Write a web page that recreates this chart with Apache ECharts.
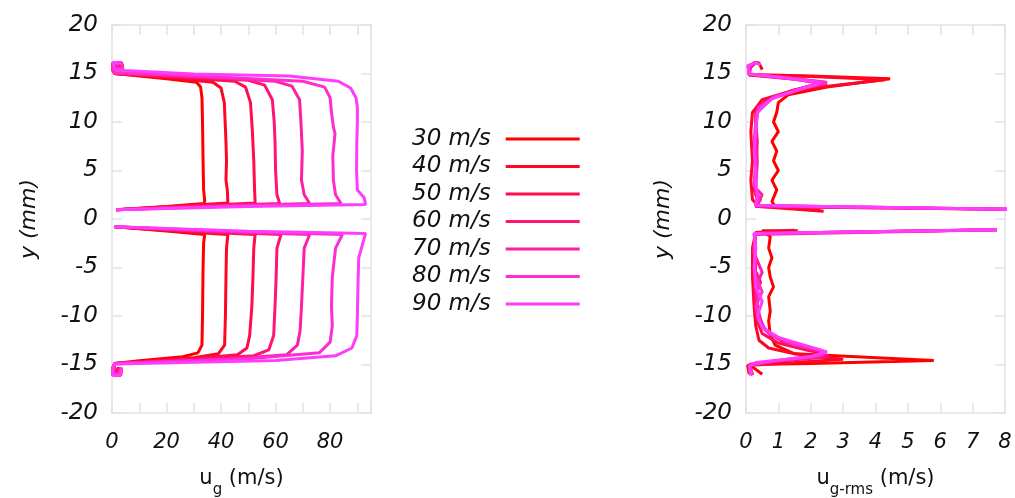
<!DOCTYPE html>
<html><head><meta charset="utf-8">
<script src="https://cdn.jsdelivr.net/npm/echarts@6/dist/echarts.min.js"></script>
<style>html,body{margin:0;padding:0;background:#fff}#c{width:1015px;height:498px}</style>
</head><body><div id="c"></div>
<script>
const speeds = ['30 m/s','40 m/s','50 m/s','60 m/s','70 m/s','80 m/s','90 m/s'];
const colors = ['#ff0000','#ff0526','#ff0c4c','#ff1476','#ff1fa4','#ff2ccf','#ff3cfb'];
const yTicks = [-20,-15,-10,-5,0,5,10,15,20];
const ugTicks = [0,20,40,60,80];
const rmsTicks = [0,1,2,3,4,5,6,7,8];

// mean velocity u_g, upper half (y>0) and lower half (y<0)
const ugTop30 = [[1.5,0.95],[20,1.3],[33.8,1.6],[34,1.9],[33.6,3],[33.4,6],[33.2,10],[33,12.5],[32.5,13.6],[31,14.1],[20,14.45],[10,14.75],[1,15.0],[0.3,15.3],[0.3,16.1],[1.5,15.5],[2,16.1],[3.5,16.1],[4,15.4],[2.5,15.7]];
const ugTop40 = [[1.5,0.95],[25,1.35],[42.5,1.65],[42.3,3],[41.8,4],[42,6],[41.8,8],[41.5,10],[41.2,12],[40,13.5],[37,14.1],[20,14.6],[1,15.0],[0.5,15.5],[0.4,16.0],[2.5,15.4],[3,16.1],[4,15.7]];
const ugTop50 = [[1.5,0.95],[30,1.35],[52.5,1.65],[52.3,3],[52,6],[51.5,9],[50.8,12],[49,13.6],[45,14.2],[25,14.6],[1,15.0],[0.3,15.6],[1.2,16.1],[2.2,15.3],[3.8,15.9]];
const ugTop60 = [[1.5,0.95],[35,1.35],[61.5,1.6],[60.5,2.5],[60,5],[59.8,8],[59.5,10],[58.8,12.3],[56,13.8],[50,14.3],[25,14.7],[1,15.0],[0.3,15.4],[0.3,16.1],[3.5,16.1],[3.8,15.3]];
const ugTop70 = [[1.5,0.95],[40,1.35],[72.5,1.6],[70.5,2.5],[69.5,4],[69.8,7],[69.3,10],[68.8,12.3],[66,13.7],[60,14.2],[30,14.7],[1,15.05],[0.6,15.8],[1.8,16.0],[2.8,15.4],[4,15.3]];
const ugTop80 = [[1.5,0.95],[45,1.35],[84,1.6],[82,2.5],[81.2,4],[81,6.5],[81.8,8.8],[81.2,9.5],[80.5,11],[80,12.5],[78,13.6],[70,14.2],[35,14.7],[1,15.1],[0.3,15.5],[0.5,16.1],[3.5,16.0],[4,15.3]];
const ugTop90 = [[1.5,0.95],[50,1.3],[93,1.5],[92.5,2.2],[90,3],[89.7,5],[89.8,8],[90,10],[90,11.5],[89.5,12.5],[87.5,13.5],[83,14.2],[65,14.75],[30,14.95],[4.4,15.3],[1,15.5],[0.3,16.1],[3.5,16.1]];
const ugBot30 = [[1,-0.8],[20,-1.25],[34,-1.6],[33.6,-2.5],[33.4,-5],[33.2,-10],[33,-13],[31.5,-13.8],[26,-14.2],[10,-14.6],[1,-14.9],[0.3,-15.3],[0.3,-16.1],[1.5,-15.5],[2,-16.1],[3.2,-16.1],[3.5,-15.4],[2,-15.7]];
const ugBot40 = [[1,-0.8],[25,-1.3],[42.5,-1.6],[42,-3],[41.8,-6],[41.6,-10],[41.3,-13],[39,-13.9],[30,-14.3],[1,-14.9],[0.5,-15.6],[0.6,-16.1],[2.5,-15.4],[3,-16.0]];
const ugBot50 = [[1,-0.8],[30,-1.3],[52.5,-1.6],[52,-3],[51.7,-6],[51.3,-9],[50.5,-12],[49.5,-13.3],[46,-14],[30,-14.4],[1,-14.9],[0.3,-15.5],[1.2,-16.1],[2.2,-15.3],[3.4,-15.9]];
const ugBot60 = [[1,-0.8],[35,-1.3],[62,-1.6],[60.5,-3],[60.2,-6],[59.8,-9],[59.3,-12],[57.5,-13.5],[52,-14.1],[30,-14.5],[1,-14.9],[0.3,-15.3],[0.3,-16.1],[3,-16.1],[3.5,-15.4]];
const ugBot70 = [[1,-0.8],[40,-1.3],[72.5,-1.6],[70.5,-3],[70,-6],[69.5,-9],[69,-11.5],[68,-13],[64,-14],[40,-14.5],[1,-14.9],[0.6,-15.8],[1.8,-16.0],[2.8,-15.4],[3.6,-15.6]];
const ugBot80 = [[1,-0.8],[45,-1.3],[84.5,-1.6],[82,-3],[80.8,-6],[80.5,-9],[80.8,-11],[80,-12.7],[76,-13.8],[50,-14.4],[1,-14.9],[0.3,-15.4],[0.5,-16.1],[3.2,-16.0],[3.5,-15.3]];
const ugBot90 = [[1,-0.8],[50,-1.25],[93,-1.5],[92,-2.5],[90.5,-4],[90.2,-7],[90,-10],[89.8,-12],[88,-13.3],[82,-14.1],[60,-14.6],[1,-14.95],[0.3,-15.3],[0.3,-16.1],[3,-16.1],[3.5,-15.4]];

// rms velocity u_g-rms, upper and lower halves
const rmsTop30 = [[2.3,0.85],[0.9,1.3],[0.8,1.8],[0.95,3],[0.8,4],[1.0,5],[0.85,6],[0.95,7],[0.8,8],[1.0,9],[0.85,10],[0.95,11],[1.0,12],[1.3,12.8],[2.5,13.6],[4.45,14.45],[2,14.75],[0.1,14.9],[0.1,15.5],[0.25,16.1],[0.4,16.1],[0.5,15.4]];
const rmsTop40 = [[2.4,0.8],[0.4,1.3],[0.2,2],[0.15,4],[0.2,6],[0.15,9],[0.2,11],[0.5,12.3],[1.5,13.3],[4.3,14.35],[2,14.7],[0.1,14.85],[0.1,15.6],[0.3,16.1]];
const rmsTop50 = [[8.1,1.0],[0.3,1.3],[0.35,2],[0.25,3],[0.3,5],[0.25,7],[0.3,9],[0.3,11],[0.6,12.2],[1.4,13.2],[2.3,14.0],[1.5,14.4],[0.1,14.85],[0.1,15.6],[0.3,16.1]];
const rmsTop60 = [[8.1,1.0],[0.3,1.3],[0.45,2],[0.3,2.8],[0.3,5],[0.35,8],[0.3,10],[0.35,11.5],[0.7,12.3],[1.5,13.3],[2.4,14.1],[1.3,14.5],[0.1,14.9],[0.15,15.7],[0.3,16.1]];
const rmsTop70 = [[8.1,1.0],[0.35,1.4],[0.5,2.5],[0.3,3.2],[0.35,6],[0.3,9],[0.35,11],[0.8,12.5],[1.7,13.4],[2.5,14.0],[1.2,14.6],[0.1,14.9],[0.1,15.8],[0.25,16.1]];
const rmsTop80 = [[8.1,1.0],[0.3,1.4],[0.4,2.2],[0.25,3.5],[0.3,6],[0.25,8],[0.3,10],[0.4,11.5],[0.9,12.6],[1.8,13.5],[2.5,14.1],[1.4,14.5],[0.1,14.95],[0.1,15.8],[0.3,16.1]];
const rmsTop90 = [[8.1,1.0],[0.3,1.4],[0.35,2.5],[0.3,3.5],[0.3,5],[0.25,7],[0.3,9],[0.35,11],[0.8,12.4],[1.6,13.3],[2.3,14.05],[1.3,14.5],[0.1,14.95],[0.05,15.8],[0.3,16.1],[0.45,15.9]];
const rmsBot30 = [[1.6,-1.2],[0.5,-1.2],[0.75,-1.8],[0.7,-3],[0.8,-4],[0.7,-5],[0.75,-6],[0.85,-7],[0.7,-8],[0.75,-9.5],[0.7,-10.5],[0.75,-12],[0.9,-13],[1.5,-13.9],[5.8,-14.6],[2,-14.9],[0.1,-15.0],[0.3,-15.5],[0.5,-16.0]];
const rmsBot40 = [[1.5,-1.15],[0.3,-1.4],[0.2,-3],[0.2,-6],[0.25,-9],[0.3,-11],[0.4,-12.5],[0.7,-13.3],[1.5,-13.9],[3.0,-14.45],[1.5,-14.8],[0.05,-15.1],[0.1,-16]];
const rmsBot50 = [[7.75,-1.1],[0.3,-1.5],[0.25,-3],[0.3,-5],[0.25,-7],[0.3,-9],[0.35,-10.5],[0.5,-11.8],[1.0,-12.8],[2.0,-13.6],[2.6,-14.2],[1.2,-14.6],[0.1,-15.0],[0.2,-16.1]];
const rmsBot60 = [[7.75,-1.1],[0.25,-1.5],[0.3,-3],[0.25,-5],[0.45,-6.5],[0.3,-8],[0.4,-10],[0.6,-11.5],[1.2,-12.8],[2.2,-13.6],[2.5,-14.1],[1.0,-14.6],[0.1,-15],[0.15,-16.1]];
const rmsBot70 = [[7.75,-1.1],[0.3,-1.6],[0.25,-3.5],[0.5,-5.5],[0.3,-7],[0.35,-9],[0.5,-11],[0.8,-12],[1.5,-13],[2.4,-13.7],[2.3,-14.2],[0.8,-14.7],[0.1,-15.1],[0.2,-16]];
const rmsBot80 = [[7.75,-1.1],[0.3,-1.5],[0.25,-3],[0.3,-6],[0.5,-7.5],[0.3,-9],[0.4,-10.5],[0.7,-11.8],[1.4,-12.8],[2.3,-13.5],[2.4,-14.0],[0.9,-14.6],[0.1,-15.1],[0.2,-16.1]];
const rmsBot90 = [[7.75,-1.1],[0.25,-1.5],[0.3,-3],[0.25,-5],[0.3,-7],[0.5,-8.5],[0.35,-10],[0.5,-11.2],[1.0,-12.2],[1.8,-13.0],[2.5,-13.7],[2.0,-14.2],[0.3,-14.8],[0.1,-15.2],[0.15,-16.1]];

const ugTop = [ugTop30,ugTop40,ugTop50,ugTop60,ugTop70,ugTop80,ugTop90];
const ugBot = [ugBot30,ugBot40,ugBot50,ugBot60,ugBot70,ugBot80,ugBot90];
const rmsTop = [rmsTop30,rmsTop40,rmsTop50,rmsTop60,rmsTop70,rmsTop80,rmsTop90];
const rmsBot = [rmsBot30,rmsBot40,rmsBot50,rmsBot60,rmsBot70,rmsBot80,rmsBot90];

const FONT = 'DejaVu Sans';
const frameColor = '#e2e2e2';
const ink = '#111';

function xAx(grid, max, interval, ticks, name, pos) {
  const main = pos === 'bottom';
  return {
    gridIndex: grid, type: 'value', min: 0, max: max, interval: interval, position: pos,
    axisLine: {show: true, onZero: false, lineStyle: {color: frameColor, width: 1.5}},
    axisTick: {show: true, inside: true, length: 10, lineStyle: {color: frameColor, width: 1.5}},
    splitLine: {show: false},
    axisLabel: main ? {margin: 19, fontFamily: FONT, fontStyle: 'italic', fontSize: 21, color: ink,
      formatter: v => ticks.indexOf(v) >= 0 ? String(v) : ''} : {show: false},
    name: main ? name : '', nameLocation: 'middle', nameGap: 55,
    nameTextStyle: {rich: {
      a: {fontFamily: FONT, fontSize: 21, color: ink, lineHeight: 30, verticalAlign: 'top'},
      s: {fontFamily: FONT, fontSize: 15, color: ink, lineHeight: 15, verticalAlign: 'bottom'}
    }}
  };
}
function yAx(grid, pos) {
  const main = pos === 'left';
  return {
    gridIndex: grid, type: 'value', min: -20, max: 20, interval: 5, position: pos,
    axisLine: {show: true, onZero: false, lineStyle: {color: frameColor, width: 1.5}},
    axisTick: {show: true, inside: true, length: 10, lineStyle: {color: frameColor, width: 1.5}},
    splitLine: {show: false},
    axisLabel: main ? {margin: 14, fontFamily: FONT, fontStyle: 'italic', fontSize: 23, color: ink,
      formatter: v => yTicks.indexOf(v) >= 0 ? String(v) : ''} : {show: false},
    name: main ? 'y (mm)' : '', nameLocation: 'middle', nameGap: 72,
    nameTextStyle: {fontFamily: FONT, fontStyle: 'italic', fontSize: 22, color: ink}
  };
}

function join(a, b) { return a.concat([['-','-']], b); }

const series = [];
speeds.forEach((s, i) => {
  series.push({name: s, type: 'line', xAxisIndex: 0, yAxisIndex: 0, data: join(ugTop[i], ugBot[i]),
    symbol: 'none', lineStyle: {width: 3, color: colors[i]}, itemStyle: {color: colors[i]}, animation: false});
});
speeds.forEach((s, i) => {
  series.push({name: s, type: 'line', xAxisIndex: 2, yAxisIndex: 2, data: join(rmsTop[i], rmsBot[i]),
    symbol: 'none', lineStyle: {width: 3, color: colors[i]}, itemStyle: {color: colors[i]}, animation: false});
});

const chart = echarts.init(document.getElementById('c'), null, {renderer: 'canvas'});
chart.setOption({
  backgroundColor: '#fff',
  animation: false,
  grid: [
    {left: 112, top: 25, width: 259, height: 388, containLabel: false, outerBoundsMode: 'none'},
    {left: 746, top: 25, width: 259, height: 388, containLabel: false, outerBoundsMode: 'none'}
  ],
  xAxis: [
    xAx(0, 95, 10, ugTicks, '{a|u}{s|g}{a| (m/s)}', 'bottom'),
    xAx(0, 95, 10, ugTicks, '', 'top'),
    xAx(1, 8, 1, rmsTicks, '{a|u}{s|g-rms}{a| (m/s)}', 'bottom'),
    xAx(1, 8, 1, rmsTicks, '', 'top')
  ],
  yAxis: [yAx(0, 'left'), yAx(0, 'right'), yAx(1, 'left'), yAx(1, 'right')],
  legend: {
    data: speeds, orient: 'vertical', left: 407, top: 122, align: 'right',
    icon: 'rect', itemWidth: 74, itemHeight: 3, itemGap: 3.5,
    textStyle: {fontFamily: FONT, fontStyle: 'italic', fontSize: 23, color: ink, lineHeight: 24, padding: [0, 10, 0, 0]}
  },
  series: series
});
</script></body></html>
